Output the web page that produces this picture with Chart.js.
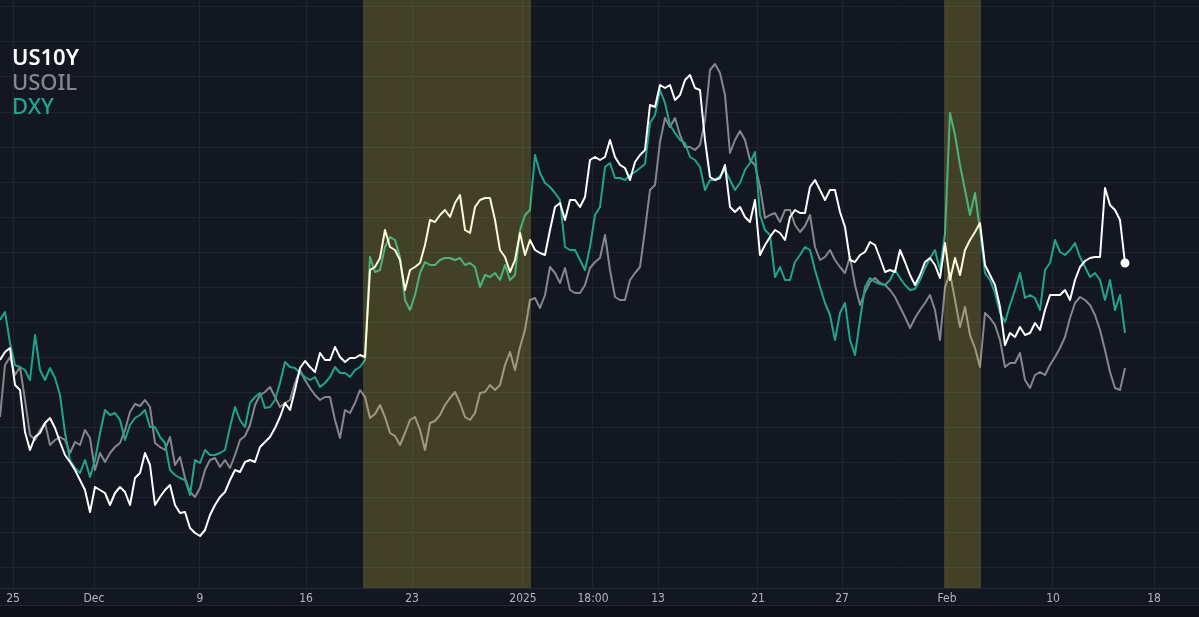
<!DOCTYPE html>
<html>
<head>
<meta charset="utf-8">
<script src="https://cdn.jsdelivr.net/npm/chart.js@4.4.1/dist/chart.umd.min.js"></script>
<style>
  html, body { margin: 0; padding: 0; background: #131722; overflow: hidden; }
  #wrap { position: relative; width: 1199px; height: 617px; }
  #legend div { position: absolute; left: 12px; font-family: 'Noto Sans', 'Open Sans', sans-serif; font-size: 22px; line-height: 24px; font-weight: 500; white-space: nowrap; }
  #legend div:first-child { font-weight: 600; }
</style>
</head>
<body>
<div id="wrap">
  <canvas id="chart" width="1199" height="617"></canvas>
  <div id="legend"></div>
</div>
<script>
// one sample every 5 px of chart width, relative level (higher = up)
const us10y = [240,248,252,215,210,168,150,163,167,177,182,172,158,145,138,130,120,110,88,113,
  110,107,95,107,113,108,95,122,127,147,135,95,103,110,115,95,87,88,72,67,
  64,70,85,95,103,108,120,130,128,138,140,138,153,158,163,172,183,197,190,210,
  232,239,233,228,247,240,240,253,243,238,242,242,245,243,330,333,342,370,353,350,
  340,310,330,333,337,355,380,378,385,390,383,397,405,370,367,393,400,402,402,380,
  350,343,328,340,367,345,360,350,347,345,370,393,397,380,400,400,393,403,440,443,
  440,443,460,443,435,432,420,438,445,450,495,493,515,512,515,500,505,520,525,512,
  510,460,423,420,422,435,393,388,393,383,378,400,345,355,363,370,367,360,383,390,
  387,387,413,420,410,400,410,410,388,373,340,338,345,348,358,355,342,328,330,328,
  350,338,325,315,325,338,342,335,322,357,320,342,325,350,360,368,377,335,325,315,
  293,255,267,263,273,265,267,277,270,290,305,305,305,310,300,320,333,339,342,343,
  343,412,395,390,380,337];
const usoil = [183,235,243,225,233,200,165,160,170,177,155,160,163,160,147,158,155,170,162,130,
  147,138,147,153,157,170,188,196,194,200,193,157,153,150,163,135,143,122,108,103,
  112,130,140,142,133,140,132,145,160,164,175,195,205,208,213,203,193,197,200,217,
  230,220,212,205,200,203,203,180,162,190,187,197,210,203,182,186,195,183,167,164,
  155,167,180,183,170,150,177,179,185,195,202,208,197,183,180,187,207,208,215,210,
  215,235,248,230,253,270,300,302,292,305,333,327,317,332,310,307,307,315,332,338,
  342,365,330,303,300,300,320,327,333,370,410,415,458,482,473,482,465,453,453,450,
  455,480,530,536,527,505,447,460,469,460,440,435,413,382,385,387,378,390,390,375,
  368,374,385,353,340,343,350,340,333,327,343,315,295,308,318,322,317,315,310,303,
  293,283,272,282,290,297,305,290,260,313,327,300,273,293,265,252,233,287,282,275,
  260,233,237,237,247,220,212,225,228,225,235,243,252,263,282,297,303,300,295,285,
  270,250,228,212,210,232];
const dxy = [280,288,257,235,233,230,220,265,230,220,232,222,205,167,140,132,127,140,123,140,
  167,190,185,187,180,160,175,182,185,190,173,173,163,157,130,125,122,120,105,140,
  137,150,145,145,147,150,173,193,180,173,197,203,207,192,193,200,217,238,233,232,
  227,223,220,223,213,217,223,233,227,227,223,230,233,240,343,328,330,353,363,360,
  343,300,290,305,327,338,335,335,340,342,342,340,342,335,337,333,313,325,323,327,
  320,335,320,325,370,385,390,445,427,417,413,407,400,353,350,350,340,330,353,385,
  393,433,437,422,422,420,425,428,432,436,477,485,510,497,475,467,460,457,443,440,
  433,410,420,420,424,430,420,410,417,430,437,448,385,370,365,323,333,320,320,338,
  345,353,350,330,313,297,285,260,287,297,260,245,280,313,322,318,316,315,320,330,
  322,315,310,311,320,332,342,350,330,367,487,465,435,410,385,407,370,327,320,307,
  287,278,295,310,327,302,305,302,290,330,337,360,348,345,350,357,343,333,323,327,
  320,300,320,290,305,267];

const tickPos = [2.6, 18.8, 40, 61.2, 82.4, 104.6, 118.6, 131.6, 151.6, 168.4, 189.4, 210.6, 230.8];
const tickLabels = ['25', 'Dec', '9', '16', '23', '2025', '18:00', '13', '21', '27', 'Feb', '10', '18'];
const gridLevels = [33, 68, 103, 138, 173, 208, 243, 278, 313, 348, 383, 418, 453, 488, 523, 558, 593];

// highlighted sessions, in sample units
const bands = [[72.6, 106.2], [188.8, 196.2]];

const seriesNames = ['US10Y', 'USOIL', 'DXY'];
const seriesColors = ['#ffffff', '#86878d', '#1fa58b'];

const toPoints = arr => arr.map((v, i) => ({ x: i, y: v }));

const legend = document.getElementById('legend');
seriesNames.forEach((name, i) => {
  const d = document.createElement('div');
  d.textContent = name;
  d.style.top = (44 + i * 24.5) + 'px';
  d.style.color = seriesColors[i];
  legend.appendChild(d);
});

const bgPlugin = {
  id: 'bg',
  beforeDraw(chart) {
    const c = chart.ctx;
    c.save();
    c.fillStyle = '#131722';
    c.fillRect(0, 0, chart.width, chart.height);
    c.fillStyle = '#0d0f15';
    c.fillRect(0, 606, chart.width, chart.height - 606);
    c.fillStyle = '#242833';
    c.fillRect(0, chart.chartArea.bottom, chart.width, 1);
    c.fillRect(0, 605, chart.width, 1);
    c.restore();
  }
};

const bandPlugin = {
  id: 'bands',
  afterDatasetsDraw(chart) {
    const c = chart.ctx;
    const xs = chart.scales.x;
    const a = chart.chartArea;
    c.save();
    c.fillStyle = 'rgba(255, 235, 59, 0.2)';
    bands.forEach(([s, e]) => {
      const x0 = xs.getPixelForValue(s);
      const x1 = xs.getPixelForValue(e);
      c.fillRect(x0, a.top, x1 - x0, a.bottom - a.top);
    });
    c.restore();
  }
};

const noPad = s => { s.paddingLeft = 0; s.paddingRight = 0; s.paddingTop = 0; s.paddingBottom = 0; };
const lastIdx = us10y.length - 1;

new Chart(document.getElementById('chart'), {
  type: 'line',
  data: {
    datasets: [
      { label: 'US10Y', data: toPoints(us10y), borderColor: seriesColors[0], backgroundColor: seriesColors[0], borderWidth: 2, order: 0,
        pointRadius: ctx => ctx.dataIndex === lastIdx ? 3.5 : 0 },
      { label: 'DXY', data: toPoints(dxy), borderColor: seriesColors[2], borderWidth: 2, pointRadius: 0, order: 1 },
      { label: 'USOIL', data: toPoints(usoil), borderColor: seriesColors[1], borderWidth: 2, pointRadius: 0, order: 2 }
    ]
  },
  options: {
    responsive: false,
    devicePixelRatio: 1,
    animation: false,
    layout: { padding: 0, autoPadding: false },
    plugins: { legend: { display: false }, title: { display: false }, tooltip: { enabled: false } },
    elements: { line: { tension: 0, borderJoinStyle: 'round' } },
    scales: {
      x: {
        type: 'linear', min: 0, max: 239.8,
        afterBuildTicks: s => { s.ticks = tickPos.map(v => ({ value: v })); },
        afterFit: s => { s.height = 29; noPad(s); },
        grid: { color: '#1f2330', drawTicks: false },
        border: { display: false },
        ticks: {
          autoSkip: false, maxRotation: 0, padding: 4, color: '#b2b5be',
          font: { family: "'Liberation Sans Narrow', 'DejaVu Sans Condensed', sans-serif", size: 12 },
          callback: (v, i) => tickLabels[i]
        }
      },
      y: {
        min: 12, max: 600,
        afterBuildTicks: s => { s.ticks = gridLevels.map(v => ({ value: v })); },
        afterFit: s => { s.width = 0; noPad(s); },
        grid: { color: '#1f2330', drawTicks: false },
        border: { display: false },
        ticks: { display: false }
      }
    }
  },
  plugins: [bgPlugin, bandPlugin]
});
</script>
</body>
</html>
